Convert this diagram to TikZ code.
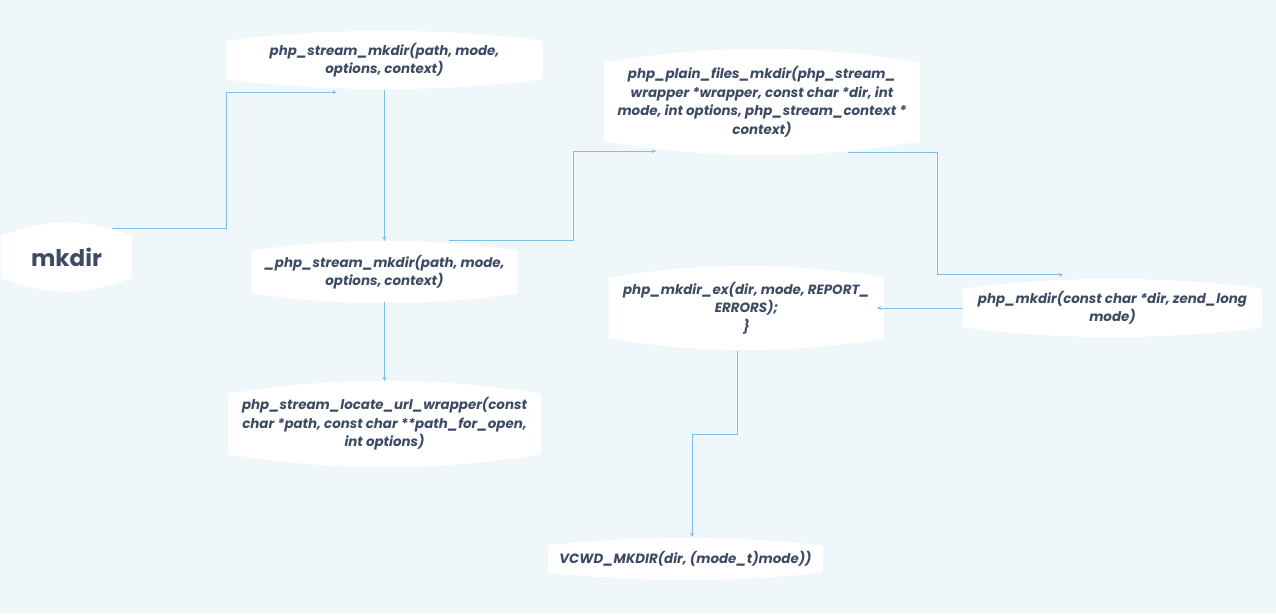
\documentclass[tikz,border=0pt]{standalone}
\usepackage{fontspec}
\setmainfont{Poppins}
\usetikzlibrary{arrows.meta,backgrounds,calc}
\definecolor{bgc}{HTML}{EFF7FA}
\definecolor{txt}{HTML}{3D4A63}
\definecolor{lnc}{HTML}{7CBFE8}
\newcommand{\blobshape}[2]{%
  \fill[white] ($(#1.south west)+(0,-6)$) -- ($(#1.north west)+(0,6)$)
    .. controls (#1.north west) .. ($(#1.north west)+(6,0)$)
    parabola bend ($(#1.north)+(0,-#2)$) ($(#1.north east)+(-6,0)$)
    .. controls (#1.north east) .. ($(#1.north east)+(0,6)$)
    -- ($(#1.south east)+(0,-6)$)
    .. controls (#1.south east) .. ($(#1.south east)+(-6,0)$)
    parabola bend ($(#1.south)+(0,#2)$) ($(#1.south west)+(6,0)$)
    .. controls (#1.south west) .. cycle;}
\begin{document}
\begin{tikzpicture}[x=1pt,y=-1pt,
  box/.style={inner sep=0pt, align=center, text=txt,
    font=\fontsize{13.4}{18.5}\selectfont\bfseries\itshape},
  conn/.style={draw=lnc, line width=0.8pt, -{Stealth[length=4pt,width=4pt]}}]
\useasboundingbox (0,0) rectangle (1276,614);
\node[box, minimum width=316, minimum height=40] (psm) at (384.5,60) {php\_stream\_mkdir(path, mode,\\options, context)};
\node[box, minimum width=131, minimum height=45, font=\fontsize{23}{26}\selectfont\bfseries] (mk) at (66.5,257) {mkdir};
\node[box, minimum width=266, minimum height=44] (upsm) at (384.5,272) {\_php\_stream\_mkdir(path, mode,\\options, context)};
\node[box, minimum width=316, minimum height=80] (pf) at (762,102) {php\_plain\_files\_mkdir(php\_stream\_\\wrapper *wrapper, const char *dir, int\\mode, int options, php\_stream\_context *\\context)};
\node[box, minimum width=275, minimum height=62] (ex) at (746.5,308) {php\_mkdir\_ex(dir, mode, REPORT\_\\ERRORS);\\\}};
\node[box, minimum width=299, minimum height=40] (pm) at (1112.5,308) {php\_mkdir(const char *dir, zend\_long\\mode)};
\node[box, minimum width=313, minimum height=62] (loc) at (384.5,424) {php\_stream\_locate\_url\_wrapper(const\\char *path, const char **path\_for\_open,\\int options)};
\node[box, minimum width=275, minimum height=28] (vc) at (685.5,559) {VCWD\_MKDIR(dir, (mode\_t)mode))};
\begin{scope}[on background layer]
  \fill[bgc] (0,0) rectangle (1276,614);
  \blobshape{psm}{9}
  \blobshape{mk}{12}
  \blobshape{upsm}{9}
  \blobshape{pf}{13}
  \blobshape{ex}{11}
  \blobshape{pm}{9}
  \blobshape{loc}{12}
  \blobshape{vc}{7}
\end{scope}
\draw[conn] ([xshift=-20pt,yshift=5.5pt]mk.north east) -- ++(114,0) |- ([xshift=-48pt,yshift=-12pt]psm.south);
\draw[conn] ([yshift=-10pt]psm.south) -- ([yshift=9pt]upsm.north);
\draw[conn] ([xshift=64pt,yshift=9pt]upsm.north) -- ++(125,0) |- ([xshift=-106pt,yshift=-9pt]pf.south);
\draw[conn] ([yshift=-8pt]upsm.south) -- ([yshift=12pt]loc.north);
\draw[conn] ([xshift=86pt,yshift=-10pt]pf.south) -- ++(89,0) |- ([xshift=-49.5pt,yshift=13pt]pm.north);
\draw[conn] (pm.west) -- ([xshift=-7pt]ex.east);
\draw[conn] ([xshift=-9.5pt,yshift=-12pt]ex.south) -- ++(0,83) -| ([xshift=6.5pt,yshift=8pt]vc.north);
\end{tikzpicture}
\end{document}
